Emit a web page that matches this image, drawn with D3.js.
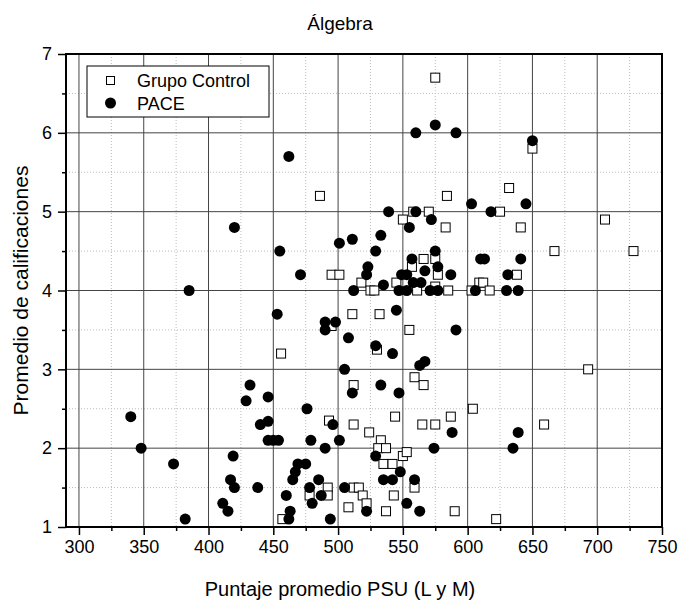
<!DOCTYPE html>
<html>
<head>
<meta charset="utf-8">
<script src="https://cdn.jsdelivr.net/npm/d3@7"></script>
<style>
    body { margin: 0; background: #fff; }
    text { font-family: "Liberation Sans", Arial, sans-serif; fill: #000; }
</style>
</head>
<body>
<svg id="drawing_region"></svg>
<script>
// Grupo Control: [PSU promedio, promedio calificaciones]
const grupoControl = [
    [575,6.7],[486,5.2],[584,5.2],[558,5.0],[570,5.0],[550,4.9],[583,4.8],[566,4.4],[575,4.4],
    [557,4.3],[495,4.2],[501,4.2],[577,4.2],[518,4.1],[545,4.1],[575,4.05],[525,4.0],[528,4.0],
    [561,4.0],[585,4.0],[603,4.0],[650,5.8],[632,5.3],[625,5.0],[706,4.9],[641,4.8],[667,4.5],
    [728,4.5],[638,4.2],[609,4.1],[612,4.1],[617,4.0],[511,3.7],[532,3.7],[495,3.55],[555,3.5],
    [530,3.25],[456,3.2],[559,2.9],[566,2.8],[512,2.8],[604,2.5],[544,2.4],[587,2.4],[493,2.35],
    [512,2.3],[565,2.3],[575,2.3],[524,2.2],[533,2.1],[531,2.0],[537,2.0],[550,1.9],[553,1.95],
    [535,1.8],[542,1.8],[559,1.5],[492,1.5],[512,1.5],[516,1.5],[478,1.4],[492,1.4],[519,1.4],
    [543,1.4],[522,1.3],[508,1.25],[537,1.2],[590,1.2],[457,1.1],[693,3.0],[659,2.3],[622,1.1]
];

// PACE
const pace = [
    [420,4.8],[385,4.0],[560,6.0],[575,6.1],[591,6.0],[462,5.7],[603,5.1],[539,5.0],[560,5.0],
    [572,4.9],[555,4.8],[533,4.7],[511,4.65],[501,4.6],[455,4.5],[529,4.5],[575,4.5],[557,4.4],
    [523,4.3],[577,4.3],[567,4.25],[471,4.2],[522,4.2],[549,4.2],[553,4.2],[587,4.2],[535,4.07],
    [558,4.1],[564,4.1],[512,4.0],[547,4.0],[553,4.0],[571,4.0],[577,4.0],[606,4.0],[650,5.9],
    [645,5.1],[618,5.0],[610,4.4],[613,4.4],[641,4.4],[631,4.2],[630,4.0],[639,4.0],
    [432,2.8],[429,2.6],[446,2.65],[340,2.4],[440,2.3],[446,2.34],[446,2.1],[348,2.0],[419,1.9],
    [373,1.8],[417,1.6],[420,1.5],[438,1.5],[411,1.3],[415,1.2],[382,1.1],
    [453,3.7],[545,3.75],[490,3.6],[498,3.6],[490,3.5],[591,3.5],[508,3.4],[529,3.3],[542,3.2],
    [563,3.05],[567,3.1],[505,3.0],[511,2.7],[533,2.8],[547,2.7],[476,2.5],[496,2.3],[588,2.2],
    [450,2.1],[454,2.1],[479,2.1],[501,2.1],[490,2.0],[574,2.0],[529,1.9],[548,1.7],[469,1.8],
    [475,1.8],[467,1.7],[465,1.6],[485,1.6],[535,1.6],[542,1.6],[559,1.6],[478,1.5],[505,1.5],
    [460,1.4],[487,1.4],[480,1.3],[553,1.3],[463,1.2],[522,1.2],[563,1.2],[462,1.1],[494,1.1],
    [639,2.2],[635,2.0]
];

const xTicks = [300,350,400,450,500,550,600,650,700,750];
const xMinor = [325,375,425,475,525,575,625,675,725];
const yTicks = [1,2,3,4,5,6,7];
const yMinor = [1.5,2.5,3.5,4.5,5.5,6.5];
const seriesNames = ['Grupo Control', 'PACE'];

const config = {
    width: 679,
    height: 608,
    margin: {top:54, right:17, bottom:81, left:66}
};

const svg = d3.select('#drawing_region')
    .attr('width', config.width)
    .attr('height', config.height);

const inner_width = config.width - config.margin.left - config.margin.right;
const inner_height = config.height - config.margin.top - config.margin.bottom;

const chart = svg.append('g')
    .attr('transform', `translate(${config.margin.left}, ${config.margin.top})`);

const xscale = d3.scaleLinear()
    .domain([290, 750])
    .range([0, inner_width]);

const yscale = d3.scaleLinear()
    .domain([1, 7])
    .range([inner_height, 0]);

// minor grid (dotted)
chart.append('g').selectAll('line').data(xMinor).join('line')
    .attr('x1', d => xscale(d)).attr('x2', d => xscale(d))
    .attr('y1', 0).attr('y2', inner_height)
    .attr('stroke', '#bbb').attr('stroke-dasharray', '1,2');
chart.append('g').selectAll('line').data(yMinor).join('line')
    .attr('x1', 0).attr('x2', inner_width)
    .attr('y1', d => yscale(d)).attr('y2', d => yscale(d))
    .attr('stroke', '#bbb').attr('stroke-dasharray', '1,2');

// major grid
chart.append('g').selectAll('line').data(xTicks.slice(0, -1)).join('line')
    .attr('x1', d => xscale(d)).attr('x2', d => xscale(d))
    .attr('y1', 0).attr('y2', inner_height)
    .attr('stroke', '#444').attr('stroke-width', 1);
chart.append('g').selectAll('line').data(yTicks.slice(1, -1)).join('line')
    .attr('x1', 0).attr('x2', inner_width)
    .attr('y1', d => yscale(d)).attr('y2', d => yscale(d))
    .attr('stroke', '#444').attr('stroke-width', 1);

// axes
const xaxis = d3.axisBottom(xscale).tickValues(xTicks).tickFormat(d3.format('d'))
    .tickSize(8).tickPadding(5).tickSizeOuter(0);
const yaxis = d3.axisLeft(yscale).tickValues(yTicks).tickFormat(d3.format('d'))
    .tickSize(8).tickPadding(6).tickSizeOuter(0);

const xg = chart.append('g')
    .attr('transform', `translate(0, ${inner_height})`)
    .call(xaxis);
const yg = chart.append('g').call(yaxis);

chart.append('g')
    .attr('transform', `translate(0, ${inner_height})`)
    .call(d3.axisBottom(xscale).tickValues(xMinor).tickSize(4).tickFormat('').tickSizeOuter(0))
    .select('.domain').remove();
chart.append('g')
    .call(d3.axisLeft(yscale).tickValues(yMinor).tickSize(4).tickFormat('').tickSizeOuter(0))
    .select('.domain').remove();

svg.selectAll('.tick text').attr('font-size', 18).attr('font-family', '"Liberation Sans", Arial, sans-serif');
svg.selectAll('.tick line').attr('stroke', '#000').attr('stroke-width', 1.5);
xg.select('.domain').remove();
yg.select('.domain').remove();

// frame
chart.append('rect')
    .attr('width', inner_width).attr('height', inner_height)
    .attr('fill', 'none').attr('stroke', '#000').attr('stroke-width', 2);

// points
chart.append('g').selectAll('rect').data(grupoControl).join('rect')
    .attr('x', d => xscale(d[0]) - 4.5)
    .attr('y', d => yscale(d[1]) - 4.5)
    .attr('width', 9).attr('height', 9)
    .attr('fill', '#fff').attr('stroke', '#000').attr('stroke-width', 1);

chart.append('g').selectAll('circle').data(pace).join('circle')
    .attr('cx', d => xscale(d[0]))
    .attr('cy', d => yscale(d[1]))
    .attr('r', 5.5)
    .attr('fill', '#000');

// legend
const legend = svg.append('g').attr('transform', 'translate(87, 66)');
legend.append('rect')
    .attr('width', 182).attr('height', 51)
    .attr('fill', '#fff').attr('stroke', '#000').attr('stroke-width', 1);
legend.append('rect')
    .attr('x', 19.5).attr('y', 10.5).attr('width', 8).attr('height', 8)
    .attr('fill', '#fff').attr('stroke', '#000');
legend.append('circle')
    .attr('cx', 23.5).attr('cy', 37).attr('r', 5.5).attr('fill', '#000');
legend.selectAll('text.lab').data(seriesNames).join('text')
    .attr('class', 'lab')
    .attr('x', 50)
    .attr('y', (d, i) => 21 + i * 23)
    .attr('font-size', 18)
    .text(d => d);

// titles
svg.append('text')
    .attr('x', 340)
    .attr('y', 30)
    .attr('text-anchor', 'middle')
    .attr('font-size', 19)
    .text('Álgebra');

svg.append('text')
    .attr('x', 340)
    .attr('y', 596)
    .attr('text-anchor', 'middle')
    .attr('font-size', 20)
    .text('Puntaje promedio PSU (L y M)');

svg.append('text')
    .attr('transform', `translate(28, ${config.margin.top + inner_height / 2}) rotate(-90)`)
    .attr('text-anchor', 'middle')
    .attr('font-size', 21)
    .text('Promedio de calificaciones');
</script>
</body>
</html>
